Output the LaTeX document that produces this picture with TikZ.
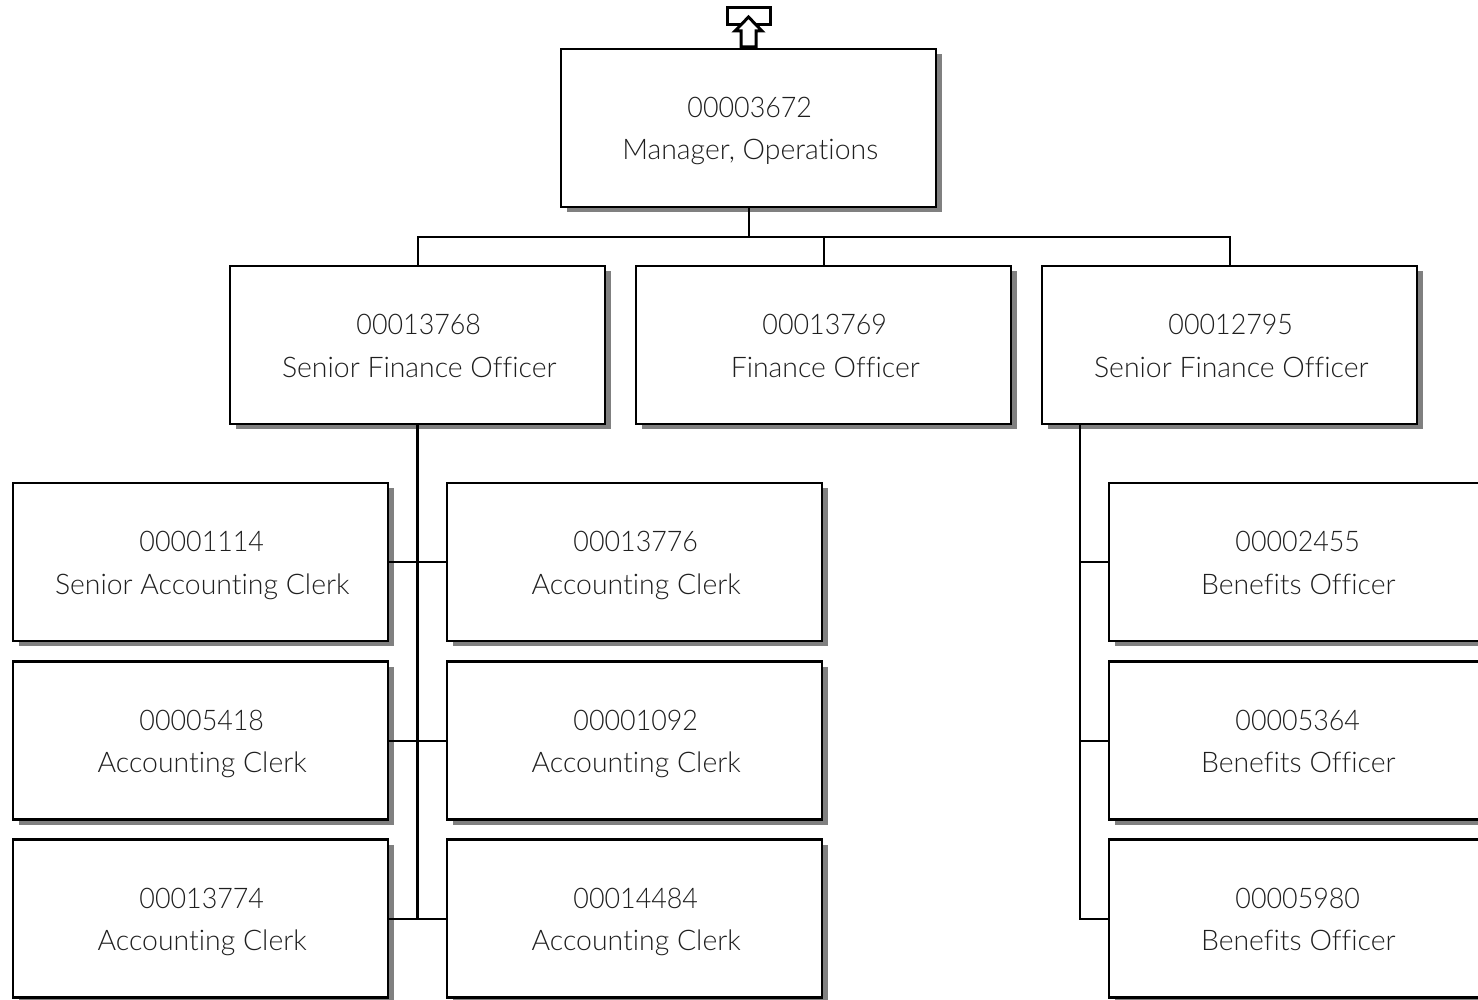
\documentclass[tikz,border=0pt]{standalone}
\usepackage{fontspec}
\setmainfont{Lato}[UprightFont=* Light,Ligatures=NoCommon]
\newfontfamily\digitfont{Lato}[UprightFont=* Light,FakeStretch=0.945]
\usetikzlibrary{shadows}
\newcommand{\boxstrut}{\rule{0pt}{32pt}\rule[-10.5pt]{0pt}{10.5pt}}
\newcommand{\posn}[2]{{\digitfont\boxstrut\hspace*{2.5pt}#1}\\\boxstrut\hspace*{3.5pt}#2}
\tikzset{
  posbox/.style={draw=black,line width=2.2pt,fill=white,minimum width=375pt,minimum height=158pt,inner sep=0pt,align=center,
    font=\fontsize{28.4}{42.5}\selectfont,text=black!88,
    copy shadow={draw=none,fill=black!50,shadow xshift=5.5pt,shadow yshift=-5pt}},
  wire/.style={draw=black,line width=2pt},
  trunk/.style={draw=black,line width=2.6pt},
  updraw/.style={draw=black,line width=3pt,fill=white,line join=miter}
}
\begin{document}
\begin{tikzpicture}[x=1pt,y=-1pt]
\useasboundingbox (0,0) rectangle (1478,1000);
\clip (0,0) rectangle (1478,1000);
\node[posbox] (top) at (748.5,128) {\posn{00003672}{Manager, Operations}};
\node[posbox] (a) at (417.5,345) {\posn{00013768}{Senior Finance Officer}};
\node[posbox] (b) at (823.5,345) {\posn{00013769}{Finance Officer}};
\node[posbox] (c) at (1229.5,345) {\posn{00012795}{Senior Finance Officer}};
\node[posbox] (l1) at (200.5,562) {\posn{00001114}{Senior Accounting Clerk}};
\node[posbox] (l2) at (200.5,740.5) {\posn{00005418}{Accounting Clerk}};
\node[posbox] (l3) at (200.5,918.5) {\posn{00013774}{Accounting Clerk}};
\node[posbox] (m1) at (634.5,562) {\posn{00013776}{Accounting Clerk}};
\node[posbox] (m2) at (634.5,740.5) {\posn{00001092}{Accounting Clerk}};
\node[posbox] (m3) at (634.5,918.5) {\posn{00014484}{Accounting Clerk}};
\node[posbox] (r1) at (1296.5,562) {\posn{00002455}{Benefits Officer}};
\node[posbox] (r2) at (1296.5,740.5) {\posn{00005364}{Benefits Officer}};
\node[posbox] (r3) at (1296.5,918.5) {\posn{00005980}{Benefits Officer}};
\coordinate (bus) at (748.5,237);
\coordinate (rt) at (1080,424);
\draw[wire] (top.south) -- (bus);
\draw[wire] (a.north) |- (bus) -| (c.north);
\draw[wire] (b.north) -- (b.north|-bus);
\draw[trunk] (a.south) -- (a.south|-l3.east);
\draw[wire] (l1.east) -- (m1.west);
\draw[wire] (l2.east) -- (m2.west);
\draw[wire] (l3.east) -- (m3.west);
\draw[wire] (rt) |- (r3.west);
\draw[wire] (rt|-r1.west) -- (r1.west);
\draw[wire] (rt|-r2.west) -- (r2.west);
% off-page marker
\draw[updraw] (727,8) rectangle (770,25);
\draw[updraw] (741,47) -- (741,31) -- (735,31) -- (748.5,17) -- (762,31) -- (756,31) -- (756,47) -- cycle;
\end{tikzpicture}
\end{document}
